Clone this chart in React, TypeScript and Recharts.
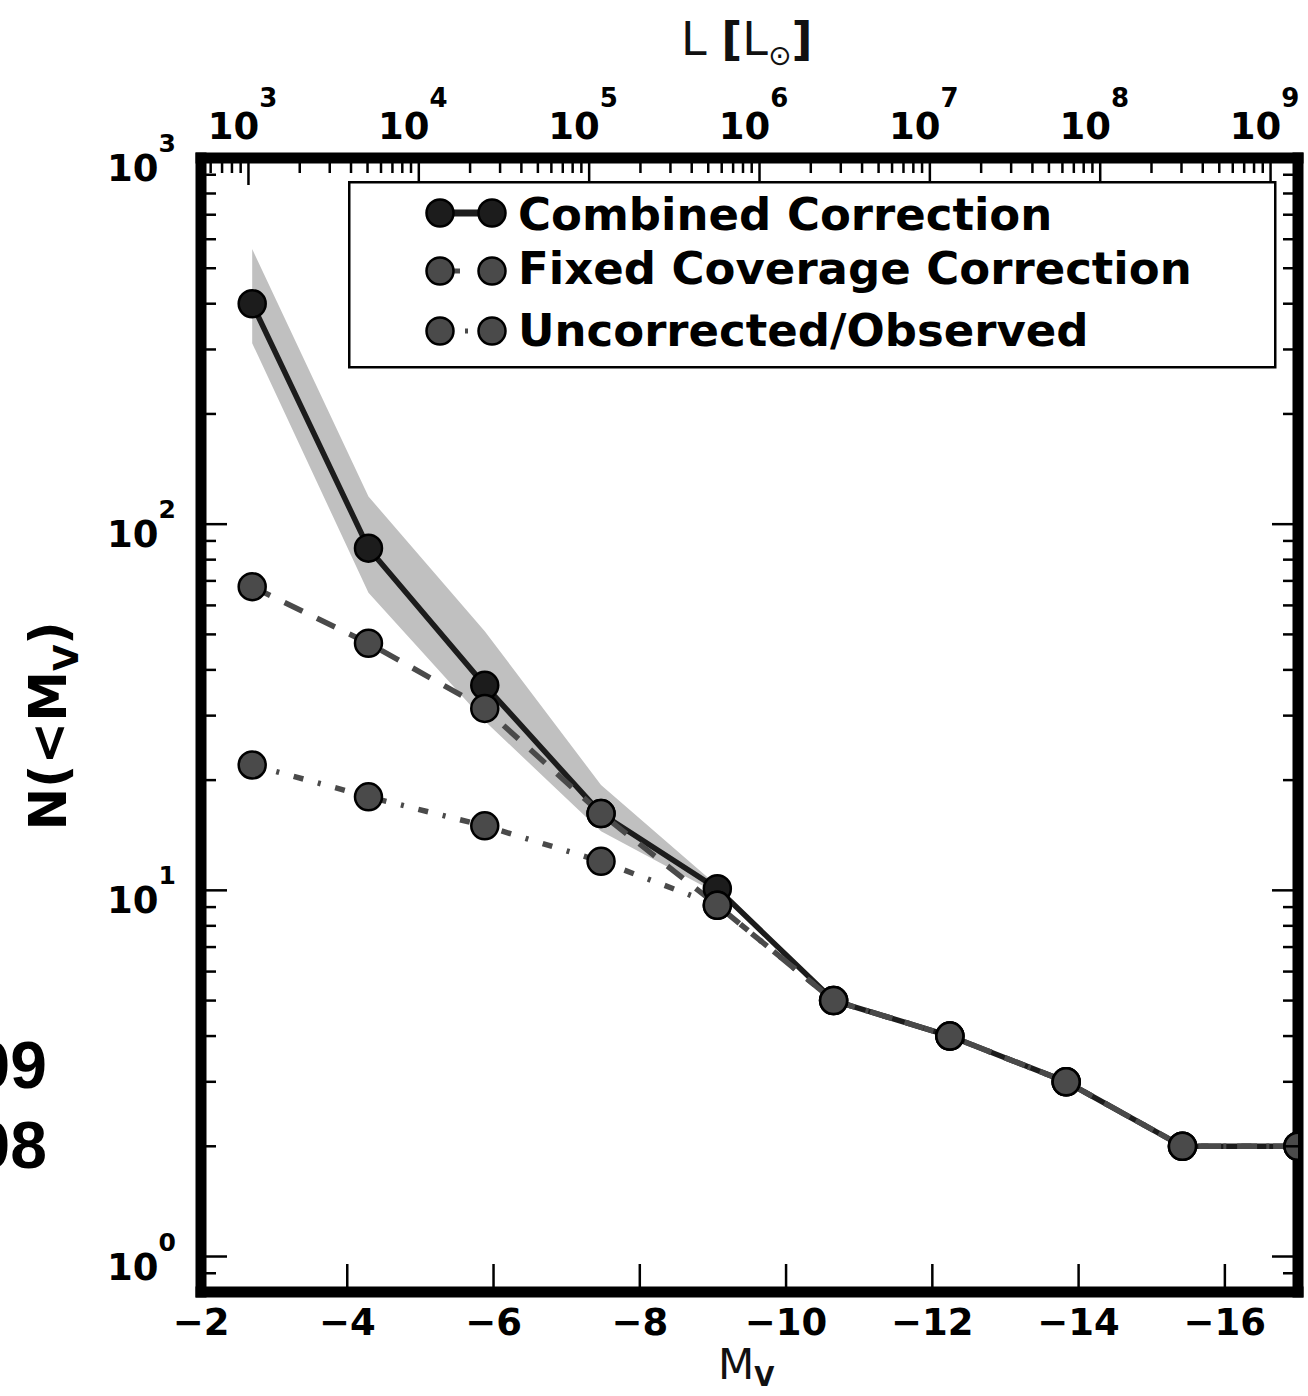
import React from "react";
import { ComposedChart, Line, Area, XAxis, YAxis, Legend } from "recharts";

// magnitude bins (M_V) and cumulative counts N(<M_V)
const magnitudes = [-2.7, -4.29, -5.88, -7.47, -9.06, -10.65, -12.24, -13.83, -15.42, -17.0];
const combined = [400, 86, 36.3, 16.2, 10.1, 5, 4, 3, 2, 2];
const fixedCoverage = [67.5, 47.3, 31.4, 16.2, 9.1, 5, 4, 3, 2, 2];
const uncorrected = [22, 18, 15, 12, 9.1, 5, 4, 3, 2, 2];
const bandLow = [312, 65, 29, 14.5, 9.8, null, null, null, null, null];
const bandHigh = [564, 119, 51, 19.4, 10.3, null, null, null, null, null];

const mvTicks = [-2, -4, -6, -8, -10, -12, -14, -16];
const nDecades = [1, 10, 100, 1000];
const lumDecades = [1e2, 1e3, 1e4, 1e5, 1e6, 1e7, 1e8, 1e9];
const minorSteps = [1, 2, 3, 4, 5, 6, 7, 8, 9];

const nDomain = [0.8, 1000];
// luminosity range covered by the top axis (left and right edge of the frame)
const lumDomain = [526.5, 1.449e9];

const seriesNames = ["Combined Correction", "Fixed Coverage Correction", "Uncorrected/Observed"];

const FONT = "DejaVu Sans";
const DARK = "#1c1c1c";
const GREY = "#4a4a4a";

const nTicks = nDecades
  .flatMap((d) => minorSteps.map((m) => d * m))
  .concat([0.9])
  .filter((v) => v > nDomain[0] && v <= nDomain[1])
  .sort((a, b) => a - b);
const lumTicks = lumDecades
  .flatMap((d) => minorSteps.map((m) => d * m))
  .filter((v) => v > lumDomain[0] && v < lumDomain[1]);

const isDecade = (v: number) => {
  const e = Math.log10(v);
  return Math.abs(e - Math.round(e)) < 1e-6;
};

function LeftTick(props: any) {
  const { x, y, payload } = props;
  const major = isDecade(payload.value);
  return (
    <g>
      <line x1={x} x2={x + (major ? 26 : 15)} y1={y} y2={y} stroke="#000" strokeWidth={2.5} />
      {major && (
        <text x={x - 25} y={y + 23} textAnchor="end" fontFamily={FONT} fontWeight="bold" fontSize={37} fill="#000">
          10
          <tspan dy={-29} fontSize={25}>
            {Math.round(Math.log10(payload.value))}
          </tspan>
        </text>
      )}
    </g>
  );
}

function RightTick(props: any) {
  const { x, y, payload } = props;
  const major = isDecade(payload.value);
  return <line x1={x} x2={x - (major ? 26 : 15)} y1={y} y2={y} stroke="#000" strokeWidth={2.5} />;
}

function TopTick(props: any) {
  const { x, y, payload } = props;
  const major = isDecade(payload.value);
  return (
    <g>
      <line x1={x} x2={x} y1={y} y2={y + (major ? 27 : 15)} stroke="#000" strokeWidth={2.5} />
      {major && (
        <text x={x - 6} y={y - 19} textAnchor="middle" fontFamily={FONT} fontWeight="bold" fontSize={37} fill="#000">
          10
          <tspan dy={-32} fontSize={26}>
            {Math.round(Math.log10(payload.value))}
          </tspan>
        </text>
      )}
    </g>
  );
}

function BottomTick(props: any) {
  const { x, y, payload } = props;
  return (
    <g>
      <line x1={x} x2={x} y1={y} y2={y - 28} stroke="#000" strokeWidth={2.5} />
      <text x={x} y={y + 43} textAnchor="middle" fontFamily={FONT} fontWeight="bold" fontSize={37} fill="#000">
        {"\u2212" + Math.abs(payload.value)}
      </text>
    </g>
  );
}

const legendRows = [
  { name: seriesNames[0], fill: DARK, dash: undefined, width: 7, color: DARK },
  { name: seriesNames[1], fill: GREY, dash: "20 18", width: 5, color: GREY },
  { name: seriesNames[2], fill: GREY, dash: "10 15 3 15", width: 5, color: GREY },
];

function renderLegend() {
  const rowY = [32, 90, 150];
  const textY = [49, 103, 165];
  return (
    <svg width={929} height={188} style={{ display: "block" }}>
      <rect x={1.25} y={1.25} width={926} height={185} fill="#fff" stroke="#000" strokeWidth={2.5} />
      {legendRows.map((r, i) => (
        <g key={r.name}>
          <line x1={92} x2={144} y1={rowY[i]} y2={rowY[i]} stroke={r.color} strokeWidth={r.width} strokeDasharray={r.dash} />
          <circle cx={92} cy={rowY[i]} r={13.5} fill={r.fill} stroke="#000" strokeWidth={2.5} />
          <circle cx={144} cy={rowY[i]} r={13.5} fill={r.fill} stroke="#000" strokeWidth={2.5} />
          <text x={170} y={textY[i]} fontFamily={FONT} fontWeight="bold" fontSize={45} fill="#000">
            {r.name}
          </text>
        </g>
      ))}
    </svg>
  );
}

const topTitle = () => (
  <text x={681} y={55} fontFamily={FONT} fontSize={46} fill="#111">
    L <tspan fontWeight="bold">[</tspan>L
    <tspan dy={10} fontSize={28}>
      {"\u2299"}
    </tspan>
    <tspan dy={-10} fontWeight="bold">
      ]
    </tspan>
  </text>
);

const bottomTitle = () => (
  <text x={718} y={1379} fontFamily={FONT} fontSize={42} fill="#111">
    M
    <tspan dy={7} fontSize={26} fontWeight="bold">
      V
    </tspan>
  </text>
);

const leftTitle = () => (
  <text
    x={66}
    y={726}
    transform="rotate(-90, 66, 726)"
    textAnchor="middle"
    fontFamily={FONT}
    fontWeight="bold"
    fontSize={51}
    fill="#000"
  >
    N(&lt;M
    <tspan dy={12} fontSize={34}>
      V
    </tspan>
    <tspan dy={-12}>)</tspan>
  </text>
);

export default function App() {
  const data = magnitudes.map((mv, i) => ({
    mv,
    combined: combined[i],
    fixed: fixedCoverage[i],
    uncorrected: uncorrected[i],
    band: bandLow[i] == null ? null : [bandLow[i], bandHigh[i]],
  }));
  // invisible helper series so the top luminosity axis gets its range
  const lumEdges = lumDomain.map((lum) => ({ lum, edge: 1 }));

  const frame = { stroke: "#000", strokeWidth: 11, strokeLinecap: "square" as const };

  return (
    <div style={{ position: "absolute", left: 0, top: 0, width: 1308, height: 1396, background: "#fff" }}>
      <ComposedChart width={1308} height={1396} data={data} margin={{ top: 0, right: 0, bottom: 0, left: 0 }}>
        <Line
          xAxisId="top"
          yAxisId="right"
          data={lumEdges}
          dataKey="edge"
          stroke="none"
          dot={false}
          activeDot={false}
          legendType="none"
          isAnimationActive={false}
        />
        <Area
          xAxisId="bottom"
          yAxisId="left"
          dataKey="band"
          type="linear"
          fill="#c0c0c0"
          fillOpacity={1}
          stroke="none"
          isAnimationActive={false}
        />
        <Line
          xAxisId="bottom"
          yAxisId="left"
          dataKey="combined"
          name={seriesNames[0]}
          type="linear"
          stroke={DARK}
          strokeWidth={5.5}
          dot={{ r: 13.5, fill: DARK, stroke: "#000", strokeWidth: 2.5, strokeDasharray: "none" }}
          isAnimationActive={false}
        />
        <Line
          xAxisId="bottom"
          yAxisId="left"
          dataKey="fixed"
          name={seriesNames[1]}
          type="linear"
          stroke={GREY}
          strokeWidth={5.5}
          strokeDasharray="20 16"
          dot={{ r: 13.5, fill: GREY, stroke: "#000", strokeWidth: 2.5, strokeDasharray: "none" }}
          isAnimationActive={false}
        />
        <Line
          xAxisId="bottom"
          yAxisId="left"
          dataKey="uncorrected"
          name={seriesNames[2]}
          type="linear"
          stroke={GREY}
          strokeWidth={5.5}
          strokeDasharray="10 15 3 15"
          dot={{ r: 13.5, fill: GREY, stroke: "#000", strokeWidth: 2.5, strokeDasharray: "none" }}
          isAnimationActive={false}
        />
        <XAxis
          xAxisId="bottom"
          dataKey="mv"
          type="number"
          domain={[-17, -2]}
          reversed
          allowDataOverflow
          orientation="bottom"
          height={104}
          ticks={mvTicks}
          interval={0}
          tickSize={0}
          tickMargin={0}
          tickLine={false}
          tick={BottomTick}
          axisLine={frame}
          label={bottomTitle}
        />
        <XAxis
          xAxisId="top"
          dataKey="lum"
          type="number"
          scale="log"
          domain={lumDomain}
          allowDataOverflow
          orientation="top"
          height={158}
          ticks={lumTicks}
          interval={0}
          tickSize={0}
          tickMargin={0}
          tickLine={false}
          tick={TopTick}
          axisLine={frame}
          label={topTitle}
        />
        <YAxis
          yAxisId="left"
          type="number"
          scale="log"
          domain={nDomain}
          allowDataOverflow
          width={201}
          ticks={nTicks}
          interval={0}
          tickSize={0}
          tickMargin={0}
          tickLine={false}
          tick={LeftTick}
          axisLine={frame}
          label={leftTitle}
        />
        <YAxis
          yAxisId="right"
          orientation="right"
          type="number"
          scale="log"
          domain={nDomain}
          allowDataOverflow
          width={10}
          ticks={nTicks}
          interval={0}
          tickSize={0}
          tickMargin={0}
          tickLine={false}
          tick={RightTick}
          axisLine={frame}
        />
        <Legend
          content={renderLegend}
          layout="vertical"
          align="center"
          verticalAlign="middle"
          wrapperStyle={{ left: 348, top: 181, width: 929, height: 188 }}
        />
      </ComposedChart>
      <svg width={1308} height={1396} style={{ position: "absolute", left: 0, top: 0, pointerEvents: "none" }}>
        <text x={47} y={1088} textAnchor="end" fontFamily="Liberation Sans" fontWeight="bold" fontSize={66} fill="#000">
          09
        </text>
        <text x={47} y={1168} textAnchor="end" fontFamily="Liberation Sans" fontWeight="bold" fontSize={66} fill="#000">
          08
        </text>
      </svg>
    </div>
  );
}
